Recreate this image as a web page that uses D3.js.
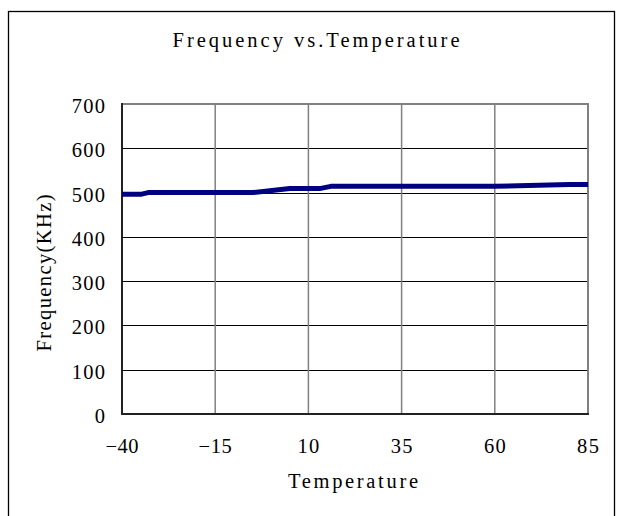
<!DOCTYPE html>
<html>
<head>
<meta charset="utf-8">
<script src="https://cdn.jsdelivr.net/npm/d3@7"></script>
<style>
  html, body { margin: 0; padding: 0; background: #fff; }
  svg { display: block; }
  text { font-family: "Liberation Serif", "DejaVu Serif", serif; fill: #000; }
</style>
</head>
<body>
<svg id="chart" width="623" height="516"></svg>
<script>
// ---- data ----
const temperatures = [-40, -35, -33, -25, -10, -5, 5, 13, 16, 25, 40, 60, 80, 85];
const frequencies  = [496, 496, 500, 500, 500, 500, 509, 509, 514, 514, 514, 514, 518, 518];
const xTicks = [-40, -15, 10, 35, 60, 85];
const yTicks = [0, 100, 200, 300, 400, 500, 600, 700];
const titleText = "Frequency vs.Temperature";
const xLabelText = "Temperature";
const yLabelText = "Frequency(KHz)";

// ---- layout ----
const plot = { left: 122, right: 588, top: 104, bottom: 414 };
const FS = 20.5;

const svg = d3.select("#chart");

// outer frame
svg.append("rect")
  .attr("x", 8.5).attr("y", 11.5)
  .attr("width", 606).attr("height", 520)
  .attr("fill", "none").attr("stroke", "#000").attr("stroke-width", 1.3);

const x = d3.scaleLinear().domain([-40, 85]).range([plot.left, plot.right]);
const y = d3.scaleLinear().domain([0, 700]).range([plot.bottom, plot.top]);

// horizontal gridlines (black, thin)
svg.append("g").selectAll("line")
  .data(yTicks.filter(v => v > 0 && v < 700))
  .join("line")
  .attr("x1", plot.left).attr("x2", plot.right)
  .attr("y1", d => Math.round(y(d)) + 0.5).attr("y2", d => Math.round(y(d)) + 0.5)
  .attr("stroke", "#000").attr("stroke-width", 1);

// vertical gridlines (gray)
svg.append("g").selectAll("line")
  .data(xTicks.filter(v => v > -40 && v < 85))
  .join("line")
  .attr("x1", d => x(d)).attr("x2", d => x(d))
  .attr("y1", plot.top).attr("y2", plot.bottom)
  .attr("stroke", "#808080").attr("stroke-width", 1.5);

// plot border top & right (gray)
svg.append("path")
  .attr("d", `M${plot.left},${plot.top}H${plot.right}V${plot.bottom}`)
  .attr("fill", "none").attr("stroke", "#808080").attr("stroke-width", 2);

// axes (dark)
svg.append("path")
  .attr("d", `M${plot.left},${plot.top - 1}V${plot.bottom}H${plot.right + 1}`)
  .attr("fill", "none").attr("stroke", "#222").attr("stroke-width", 2);

function fmt(v) { return v < 0 ? "\u2212" + Math.abs(v) : String(v); }
const CW = 11.4;

// y tick labels
svg.append("g").selectAll("text")
  .data(yTicks)
  .join("text")
  .attr("x", 105)
  .attr("y", d => y(d) + 9)
  .attr("text-anchor", "end")
  .attr("font-size", FS)
  .attr("textLength", d => fmt(d).length > 1 ? fmt(d).length * CW - 1 : null)
  .attr("lengthAdjust", "spacing")
  .text(d => fmt(d));

// x tick labels
svg.append("g").selectAll("text")
  .data(xTicks)
  .join("text")
  .attr("x", d => x(d))
  .attr("y", 453)
  .attr("text-anchor", "middle")
  .attr("font-size", FS)
  .attr("textLength", d => fmt(d).length * CW - 1)
  .attr("lengthAdjust", "spacing")
  .text(d => fmt(d));

// title
svg.append("text")
  .attr("x", 316).attr("y", 47)
  .attr("text-anchor", "middle")
  .attr("font-size", FS)
  .attr("textLength", 287).attr("lengthAdjust", "spacing")
  .text(titleText);

// x label
svg.append("text")
  .attr("x", 353).attr("y", 488)
  .attr("text-anchor", "middle")
  .attr("font-size", FS)
  .attr("textLength", 130).attr("lengthAdjust", "spacing")
  .text(xLabelText);

// y label
svg.append("text")
  .attr("transform", "translate(51,273) rotate(-90)")
  .attr("text-anchor", "middle")
  .attr("font-size", FS)
  .attr("textLength", 157).attr("lengthAdjust", "spacing")
  .text(yLabelText);

// data line
const pts = temperatures.map((t, i) => [t, frequencies[i]]);
svg.append("path")
  .datum(pts)
  .attr("d", d3.line().x(d => x(d[0])).y(d => y(d[1])))
  .attr("fill", "none")
  .attr("stroke", "#000080")
  .attr("stroke-width", 5)
  .attr("stroke-linejoin", "round");
</script>
</body>
</html>
